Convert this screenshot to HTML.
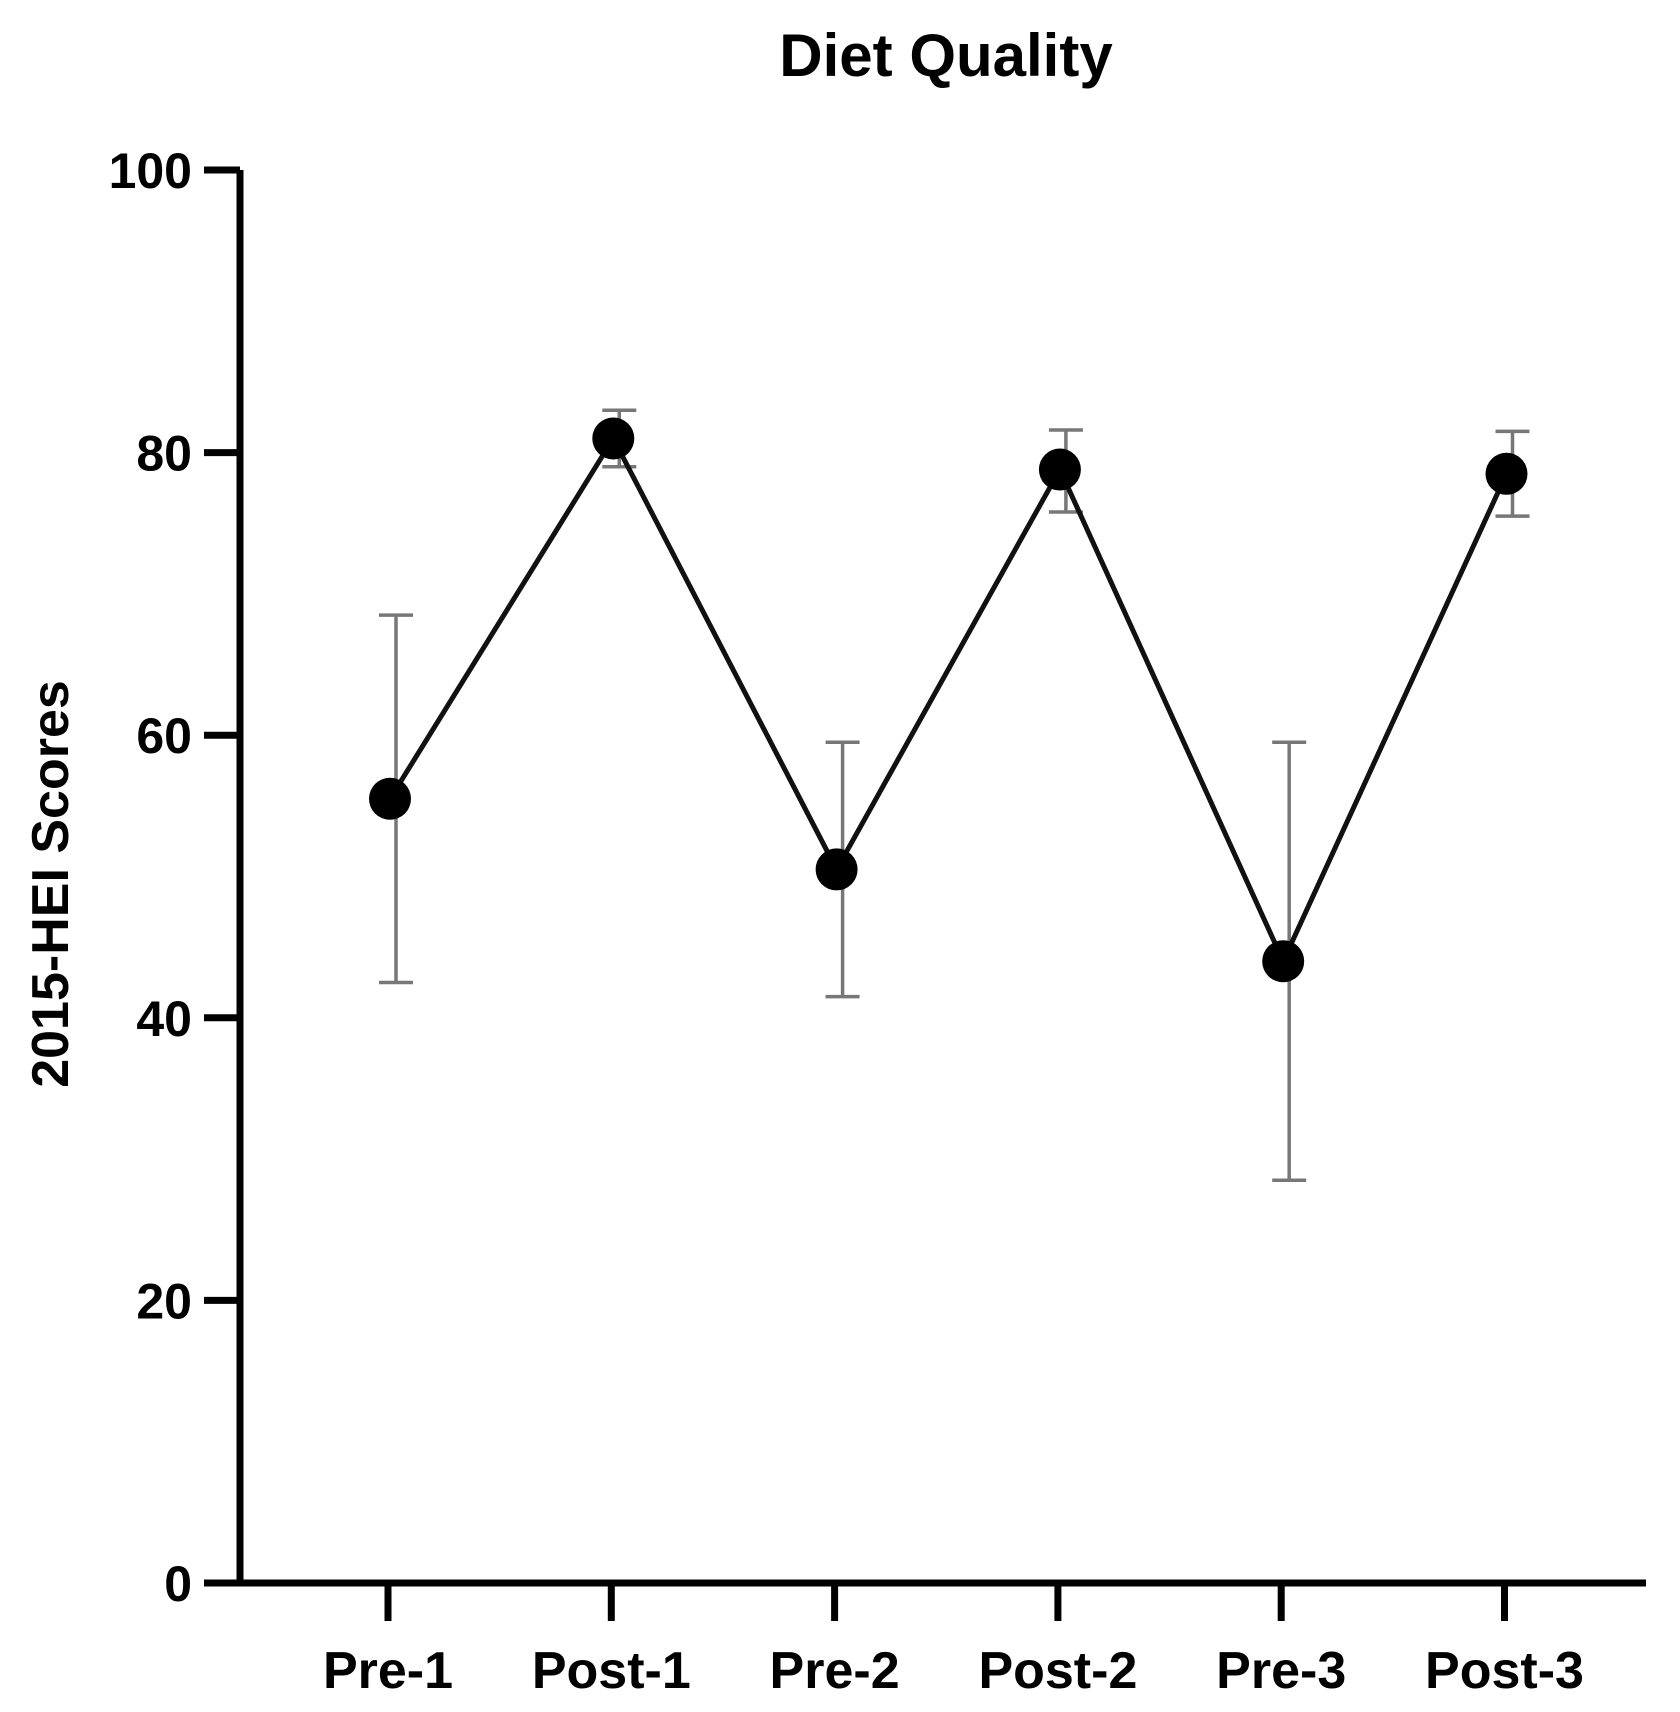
<!DOCTYPE html>
<html><head><meta charset="utf-8"><style>
body{margin:0;background:#fff;}
svg{display:block;font-family:"Liberation Sans",Arial,sans-serif;font-weight:bold;}
</style></head><body>
<svg id="chart" width="1680" height="1712" viewBox="0 0 1680 1712" xmlns="http://www.w3.org/2000/svg">
<text x="946" y="76" font-size="60" text-anchor="middle">Diet Quality</text>
<text transform="translate(68,884) rotate(-90)" font-size="52" text-anchor="middle">2015-HEI Scores</text>
<g id="axes"></g>
<g id="marks"></g>
</svg>
<script>
const categories = ["Pre-1","Post-1","Pre-2","Post-2","Pre-3","Post-3"];
const means = [55.5, 81, 50.5, 78.8, 44, 78.5];
const errLow = [42.5, 79, 41.5, 75.8, 28.5, 75.5];
const errHigh = [68.5, 83, 59.5, 81.6, 59.5, 81.5];
const yTicks = [0,20,40,60,80,100];

const NS="http://www.w3.org/2000/svg";
const y0=1583, y100=170, xAxis=240;
const yS=v=>y0-(y0-y100)*v/100;
const xS=i=>388+223.3*i;
function mk(tag,attrs,parent){const e=document.createElementNS(NS,tag);for(const k in attrs)e.setAttribute(k,attrs[k]);parent.appendChild(e);return e;}
const axes=document.getElementById('axes'), marks=document.getElementById('marks');

let yl=mk('line',{x1:xAxis,y1:y100,x2:xAxis,y2:y0+2,stroke:'#000','stroke-width':7},axes);


let xl=mk('line',{x1:204,y1:y0,x2:1646,y2:y0,stroke:'#000','stroke-width':7},axes);


yTicks.forEach(t=>{
  const y=yS(t);
  let l=mk('line',{x1:204,y1:y,x2:xAxis,y2:y,stroke:'#000','stroke-width':7},axes);
  
  
  let tx=mk('text',{x:192,y:y+18,'font-size':50,'text-anchor':'end'},axes);
  tx.textContent=t;
  
  
});
categories.forEach((c,i)=>{
  const x=xS(i);
  let l=mk('line',{x1:x,y1:y0,x2:x,y2:1621,stroke:'#000','stroke-width':7},axes);
  
  
  let tx=mk('text',{x:x,y:1688,'font-size':52,'text-anchor':'middle'},axes);
  tx.textContent=c;
  
  
});
categories.forEach((c,i)=>{
  const x=xS(i);
  const g=mk('g',{stroke:'#777','stroke-width':3.5},marks);
  
  
  mk('line',{x1:x+8,y1:yS(errLow[i]),x2:x+8,y2:yS(errHigh[i])},g);
  mk('line',{x1:x-9,y1:yS(errLow[i]),x2:x+25,y2:yS(errLow[i])},g);
  mk('line',{x1:x-9,y1:yS(errHigh[i]),x2:x+25,y2:yS(errHigh[i])},g);
});
const pts=means.map((v,i)=>(xS(i)+2)+','+yS(v)).join(' ');
let pl=mk('polyline',{points:pts,fill:'none',stroke:'#111','stroke-width':5},marks);


means.forEach((v,i)=>{
  let c=mk('circle',{cx:xS(i)+2,cy:yS(v),r:21,fill:'#000'},marks);
  
  
});
</script>
</body></html>
